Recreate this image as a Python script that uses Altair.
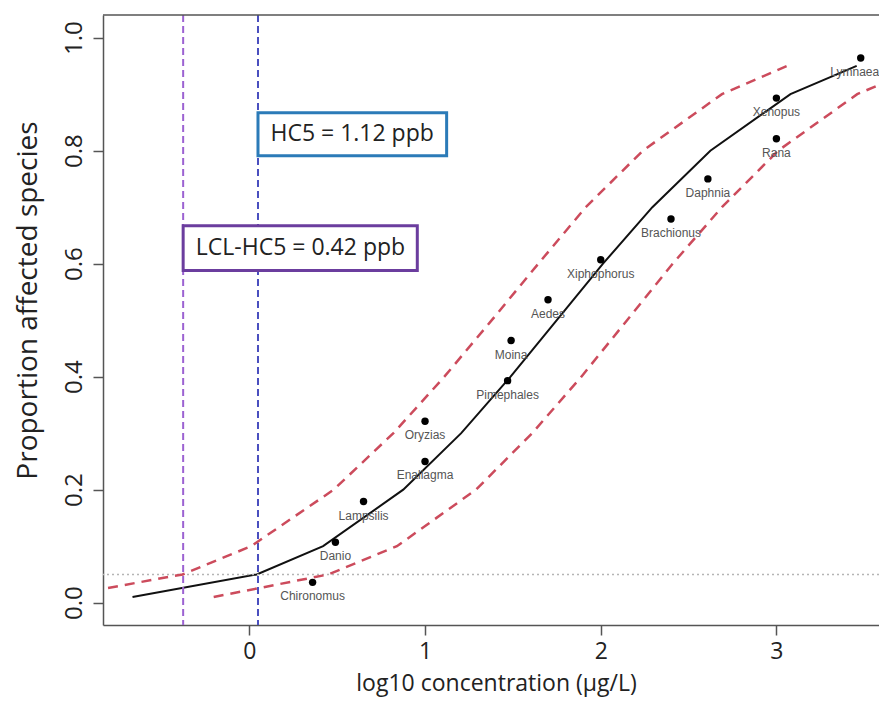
import math
import altair as alt
import pandas as pd

# ---------------- data ----------------
species = ["Chironomus", "Danio", "Lampsilis", "Enallagma", "Oryzias", "Pimephales",
           "Moina", "Aedes", "Xiphophorus", "Brachionus", "Daphnia", "Rana",
           "Xenopus", "Lymnaea"]
species_logconc = [0.36, 0.49, 0.65, 1.00, 1.00, 1.47, 1.49, 1.70, 2.00, 2.40, 2.61,
                   3.00, 3.00, 3.48]
species_prop = [0.036, 0.107, 0.179, 0.250, 0.321, 0.393, 0.464, 0.536, 0.607,
                0.679, 0.750, 0.821, 0.893, 0.964]

curve_prop = [0.01, 0.05, 0.10, 0.20, 0.30, 0.40, 0.50, 0.60, 0.70, 0.80, 0.90, 0.95]
fit_logconc = [-0.665, 0.042, 0.420, 0.876, 1.206, 1.487, 1.750, 2.013, 2.294,
               2.624, 3.080, 3.457]
upper_logconc = [-1.09, -0.38, 0.01, 0.48, 0.82, 1.11, 1.38, 1.645, 1.915, 2.24,
                 2.69, 3.06]
lower_logconc = [-0.203, 0.45, 0.84, 1.29, 1.61, 1.89, 2.15, 2.41, 2.69, 3.01,
                 3.46, 3.84]

hc5_ppb = 1.12
lcl_hc5_ppb = 0.42
protect_level = 0.05

x_ticks = [0, 1, 2, 3]
y_ticks = [0.0, 0.2, 0.4, 0.6, 0.8, 1.0]

# ---------------- tables ----------------
pts = pd.DataFrame({"species": species, "x": species_logconc, "y": species_prop})
fit = pd.DataFrame({"x": fit_logconc, "y": curve_prop})
upper = pd.DataFrame({"x": upper_logconc, "y": curve_prop})
lower = pd.DataFrame({"x": lower_logconc, "y": curve_prop})
hc5_log = math.log10(hc5_ppb)
lcl_log = math.log10(lcl_hc5_ppb)

# ---------------- layout ----------------
W, H = 776, 610
XDOM = [-0.833, 3.584]
YDOM = [-0.0395, 1.0401]
FONT = "Open Sans"
AX = "#555555"

xs = alt.Scale(domain=XDOM, nice=False, zero=False)
ys = alt.Scale(domain=YDOM, nice=False, zero=False)

x_axis = alt.Axis(values=x_ticks, format="d", title="log10 concentration (µg/L)",
                  grid=False, domainColor=AX, domainWidth=1.5, tickColor=AX,
                  tickWidth=1.5, tickSize=10, labelFontSize=23, labelFont=FONT,
                  labelColor="#222", labelBaseline="alphabetic", labelPadding=23,
                  labelFlush=False, labelOverlap=False,
                  titleFont=FONT, titleFontSize=23, titleFontWeight="normal",
                  titleColor="#222", titleX=393, titleY=65, titleAlign="center",
                  titleBaseline="alphabetic")
y_axis = alt.Axis(values=y_ticks, format=".1f", title="Proportion affected species",
                  grid=False, domainColor=AX, domainWidth=1.5, tickColor=AX,
                  tickWidth=1.5, tickSize=10, labelFontSize=24, labelFont=FONT,
                  labelColor="#222", labelAngle=270, labelAlign="center",
                  labelBaseline="alphabetic", labelPadding=12, labelFlush=False,
                  labelOverlap=False,
                  titleFont=FONT, titleFontSize=28, titleFontWeight="normal",
                  titleColor="#222", titleAngle=270, titleX=-75, titleY=285,
                  titleAlign="center", titleBaseline="middle")

X = alt.X("x:Q", scale=xs, axis=x_axis)
Y = alt.Y("y:Q", scale=ys, axis=y_axis)

hline = alt.Chart(pd.DataFrame({"y": [protect_level]})).mark_rule(
    color="#b5b5b5", strokeWidth=1.5, strokeDash=[2, 3]).encode(y=alt.Y("y:Q", scale=ys))

vlines = alt.Chart(pd.DataFrame({
    "x": [lcl_log, hc5_log], "which": ["LCL", "HC5"]})).mark_rule(
    strokeWidth=2, strokeDash=[7, 4]).encode(
    x=alt.X("x:Q", scale=xs),
    color=alt.Color("which:N", scale=alt.Scale(domain=["LCL", "HC5"],
                                               range=["#9c62d2", "#4a4fbf"]),
                    legend=None))

band_up = alt.Chart(upper).mark_line(color="#cc4b5c", strokeWidth=2.5,
                                     strokeDash=[10, 7], clip=True).encode(x=X, y=Y)
band_lo = alt.Chart(lower).mark_line(color="#cc4b5c", strokeWidth=2.5,
                                     strokeDash=[10, 7], clip=True).encode(x=X, y=Y)
curve = alt.Chart(fit).mark_line(color="#111", strokeWidth=2, clip=True).encode(x=X, y=Y)

dots = alt.Chart(pts).mark_circle(size=55, color="black", opacity=1).encode(x=X, y=Y)
labels = alt.Chart(pts).transform_filter(alt.datum.species != "Lymnaea").mark_text(
    dy=14, fontSize=12, font="Liberation Sans", color="#555").encode(
    x=X, y=Y, text="species:N")
# the last label sits at the right edge of the picture: nudge it inward
label_edge = alt.Chart(pts).transform_filter(alt.datum.species == "Lymnaea").mark_text(
    dy=14, dx=-6, fontSize=12, font="Liberation Sans", color="#555").encode(
    x=X, y=Y, text="species:N")

# annotation boxes (anchored at the threshold lines)
hc5_box = alt.Chart(pd.DataFrame({"a": [0]})).mark_rect(
    fill="white", stroke="#2b7bb8", strokeWidth=3).encode(
    x=alt.datum(hc5_log, scale=xs), x2=alt.datum(1.123),
    y=alt.datum(0.867, scale=ys), y2=alt.datum(0.791))
hc5_txt = alt.Chart(pd.DataFrame({"t": [f"HC5 = {hc5_ppb:.2f} ppb"]})).mark_text(
    font=FONT, fontSize=23, color="#222", baseline="middle").encode(
    x=alt.datum(0.585, scale=xs), y=alt.datum(0.829, scale=ys), text="t:N")

lcl_box = alt.Chart(pd.DataFrame({"a": [0]})).mark_rect(
    fill="white", stroke="#6b3d9e", strokeWidth=3).encode(
    x=alt.datum(lcl_log, scale=xs), x2=alt.datum(0.956),
    y=alt.datum(0.667, scale=ys), y2=alt.datum(0.588))
lcl_txt = alt.Chart(pd.DataFrame({"t": [f"LCL-HC5 = {lcl_hc5_ppb:.2f} ppb"]})).mark_text(
    font=FONT, fontSize=23, color="#222", baseline="middle").encode(
    x=alt.datum(0.291, scale=xs), y=alt.datum(0.628, scale=ys), text="t:N")

top_border = alt.Chart(pd.DataFrame({"a": [0]})).mark_rule(
    color=AX, strokeWidth=1.5).encode(y=alt.value(0), x=alt.value(0), x2=alt.value(W))

chart = alt.layer(
    curve, hline, vlines, band_up, band_lo, dots, labels, label_edge,
    hc5_box, hc5_txt, lcl_box, lcl_txt, top_border
).properties(
    width=W, height=H,
    autosize=alt.AutoSizeParams(type="none"),
    padding={"left": 95, "top": 7, "right": 0, "bottom": 73},
    background="white",
).configure_view(stroke=None)

chart.save("out.html", embed_options={"renderer": "svg", "actions": False})
